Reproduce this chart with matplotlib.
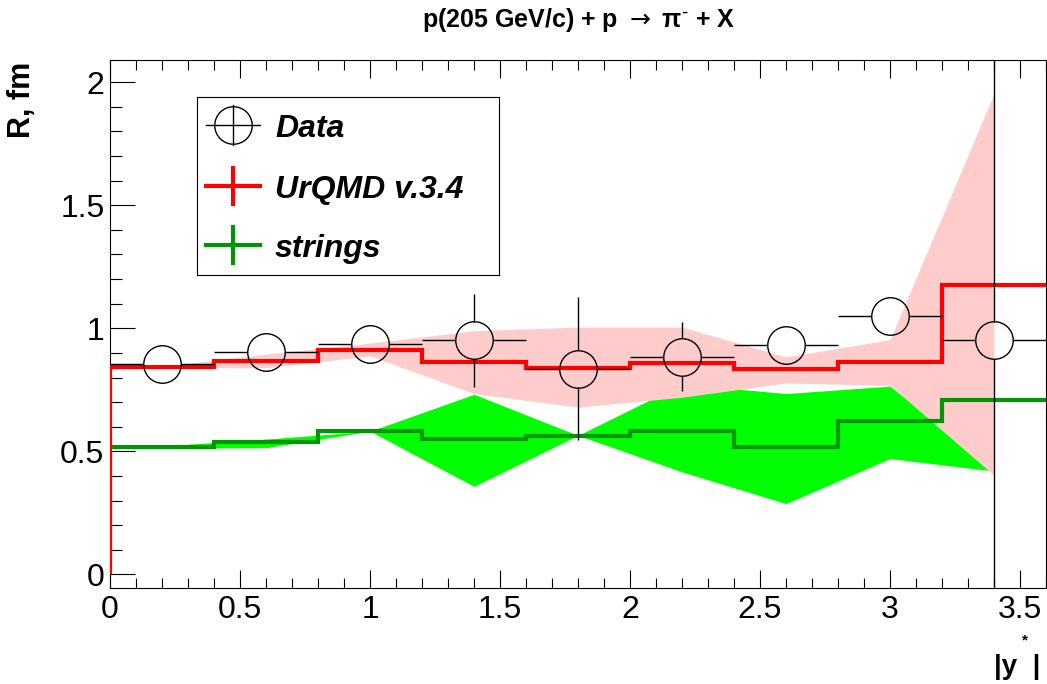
import numpy as np
import matplotlib
matplotlib.use('Agg')
import matplotlib.pyplot as plt
from matplotlib.ticker import MultipleLocator, FuncFormatter

plt.rcParams['font.family'] = ['Liberation Sans', 'DejaVu Sans']

# |y*| binning
bin_edges = [0.0, 0.4, 0.8, 1.2, 1.6, 2.0, 2.4, 2.8, 3.2, 3.6]
y_centres = [0.2, 0.6, 1.0, 1.4, 1.8, 2.2, 2.6, 3.0, 3.4]
y_halfwidth = [0.2, 0.2, 0.2, 0.2, 0.2, 0.2, 0.2, 0.2, 0.2]

# measured R (fm)
data_R = [0.854, 0.904, 0.938, 0.951, 0.836, 0.884, 0.934, 1.05, 0.951]
data_err = [0.04, 0.04, 0.05, 0.19, 0.29, 0.14, 0.05, 0.05, 1.5]

# UrQMD v.3.4
urqmd_R = [0.842, 0.867, 0.91, 0.863, 0.84, 0.859, 0.836, 0.862, 1.177]
urqmd_lo = [0.840, 0.840, 0.888, 0.735, 0.680, 0.720, 0.778, 0.768, 0.403]
urqmd_hi = [0.845, 0.895, 0.940, 0.990, 1.005, 1.005, 0.884, 0.954, 1.953]

# strings
strings_R = [0.518, 0.538, 0.582, 0.552, 0.561, 0.583, 0.516, 0.624, 0.71]
strings_lo = [0.513, 0.515, 0.582, 0.358, 0.565, 0.417, 0.288, 0.471, 0.420]
strings_hi = [0.522, 0.550, 0.582, 0.732, 0.565, 0.774, 0.735, 0.765, 0.430]

W, H = 1047, 684
fig = plt.figure(figsize=(W / 100, H / 100), dpi=100)
ax = fig.add_axes([110 / W, 1 - 588 / H, 936 / W, 528 / H])
xmin, xmax = 0.0, 3.6
ymin, ymax = -0.055, 2.09
ax.set_xlim(xmin, xmax)
ax.set_ylim(ymin, ymax)

green_line = '#009600'

# bands
ax.fill_between(y_centres, strings_lo, strings_hi, color='#00ff00', lw=0, zorder=1)
ax.fill_between(y_centres, urqmd_lo, urqmd_hi, color='#ffcccc', lw=0, zorder=2)

# model histograms (outline starts from zero at the left edge only)
ax.stairs(strings_R, bin_edges, baseline=None, color=green_line, lw=3, zorder=3)
ax.vlines(bin_edges[0], 0, strings_R[0], color=green_line, lw=3, zorder=3)
ax.stairs(urqmd_R, bin_edges, baseline=None, color='red', lw=3, zorder=4)
ax.vlines(bin_edges[0], 0, urqmd_R[0], color='red', lw=3, zorder=4)

# data: open circles, error bars stop at the circle edge
ms = 27
ax.plot(y_centres, data_R, 'o', ms=ms, mfc='none', mec='black', mew=1, zorder=6)
r_px = ms / 2 * 100 / 72
gx = r_px * (xmax - xmin) / 936
gy = r_px * (ymax - ymin) / 528
x = np.array(y_centres)
y = np.array(data_R)
xe = np.array(y_halfwidth)
ye = np.array(data_err)
ax.hlines(y, x - xe, x - gx, color='black', lw=1, zorder=6)
ax.hlines(y, x + gx, x + xe, color='black', lw=1, zorder=6)
show = ye > gy
ax.vlines(x[show], y[show] + gy, y[show] + ye[show], color='black', lw=1, zorder=6)
ax.vlines(x[show], y[show] - ye[show], y[show] - gy, color='black', lw=1, zorder=6)

# axes style
fmt = FuncFormatter(lambda v, p: '%g' % (v + 0))
ax.xaxis.set_major_locator(MultipleLocator(0.5))
ax.xaxis.set_minor_locator(MultipleLocator(0.1))
ax.yaxis.set_major_locator(MultipleLocator(0.5))
ax.yaxis.set_minor_locator(MultipleLocator(0.1))
ax.xaxis.set_major_formatter(fmt)
ax.yaxis.set_major_formatter(fmt)
ax.tick_params(which='both', direction='in', top=True, right=False, width=0.8)
ax.tick_params(axis='x', which='major', length=13, labelsize=23, pad=5)
ax.tick_params(axis='x', which='minor', length=7)
ax.tick_params(axis='y', which='major', length=18, labelsize=23, pad=4)
ax.tick_params(axis='y', which='minor', length=8.5)
for s in ax.spines.values():
    s.set_linewidth(0.8)

fig.text(579 / W, 1 - 20 / H, 'p(205 GeV/c) + p $\\rightarrow$ \u03c0$^{\\text{-}}$ + X',
         ha='center', va='center', fontsize=18, fontweight='bold')
fig.text(22 / W, 1 - 62 / H, 'R, fm', rotation=90, ha='center', va='top',
         fontsize=22, fontweight='bold')
fig.text(1040 / W, 1 - 674 / H, '|y  |', ha='right', va='baseline',
         fontsize=20, fontweight='bold')
fig.text(1025 / W, 1 - 640 / H, '*', ha='center', va='center',
         fontsize=11, fontweight='bold')

# legend box
lx0, ly0, lw_, lh_ = 197, 97, 302, 178
lg = fig.add_axes([lx0 / W, 1 - (ly0 + lh_) / H, lw_ / W, lh_ / H])
lg.set_xlim(0, lw_)
lg.set_ylim(lh_, 0)
lg.set_xticks([])
lg.set_yticks([])
for s in lg.spines.values():
    s.set_linewidth(0.8)
cx = 36
rows = [28, 89, 148]
lg.plot([cx], [rows[0]], 'o', ms=ms, mfc='none', mec='black', mew=1)
lg.plot([cx - 27, cx + 27], [rows[0], rows[0]], color='black', lw=1)
lg.plot([cx, cx], [rows[0] - 20, rows[0] + 20], color='black', lw=1)
for r, c in [(rows[1], 'red'), (rows[2], green_line)]:
    lg.plot([cx - 27, cx + 27], [r, r], color=c, lw=3)
    lg.plot([cx, cx], [r - 18, r + 18], color=c, lw=3)
labels = ['Data', 'UrQMD v.3.4', 'strings']
for r, t in zip(rows, labels):
    lg.text(78, r + 12, t, ha='left', va='baseline', fontsize=23,
            fontweight='bold', fontstyle='italic')

fig.savefig('out.png', dpi=100)
